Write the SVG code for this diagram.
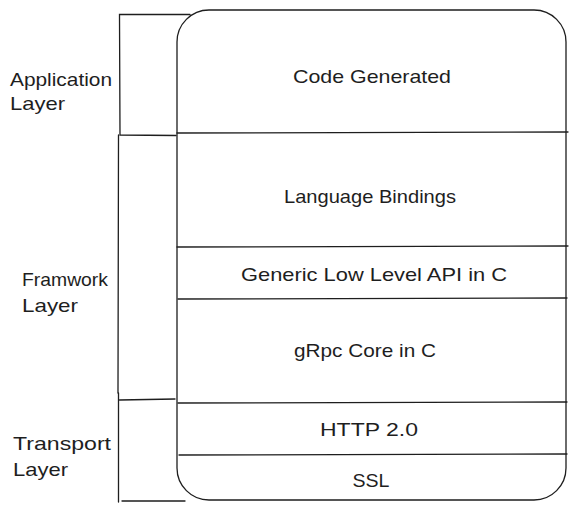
<svg xmlns="http://www.w3.org/2000/svg" width="579" height="512" viewBox="0 0 579 512">
<style>
.ln{fill:none;stroke:#1e1e1e;stroke-width:1.3;stroke-linecap:round}
.t{font-family:"Liberation Sans",Arial,sans-serif;font-size:19px;fill:#1e1e1e;dominant-baseline:central}
.c{text-anchor:middle}
</style>
<rect width="579" height="512" fill="#ffffff"/>
<g id="stack">
<rect class="ln" x="177" y="10" width="389" height="490" rx="32" ry="32"/>
</g>
<g id="code-generated">
<text class="t c" x="372" y="76" textLength="158" lengthAdjust="spacingAndGlyphs">Code Generated</text>
</g>
<g id="language-bindings">
<line class="ln" x1="177" y1="133" x2="568" y2="132"/>
<text class="t c" x="370" y="196" textLength="172" lengthAdjust="spacingAndGlyphs">Language Bindings</text>
</g>
<g id="generic-low-level-api">
<line class="ln" x1="177" y1="247" x2="568" y2="246"/>
<text class="t c" x="374" y="274" textLength="266" lengthAdjust="spacingAndGlyphs">Generic Low Level API in C</text>
</g>
<g id="grpc-core">
<line class="ln" x1="178" y1="299" x2="567" y2="298"/>
<text class="t c" x="365" y="350" textLength="142" lengthAdjust="spacingAndGlyphs">gRpc Core in C</text>
</g>
<g id="http2">
<line class="ln" x1="178" y1="403" x2="567" y2="402"/>
<text class="t c" x="369" y="429" textLength="98" lengthAdjust="spacingAndGlyphs">HTTP 2.0</text>
</g>
<g id="ssl">
<line class="ln" x1="179" y1="455" x2="567" y2="454"/>
<text class="t c" x="371" y="480" textLength="37" lengthAdjust="spacingAndGlyphs">SSL</text>
</g>
<g id="connectors">
<path class="ln" d="M190 14.5 L119.5 14.5 L120 135 L176 135.5"/>
<path class="ln" d="M118.5 135 L118 393"/>
<path class="ln" d="M119.5 400 L175 399"/>
<path class="ln" d="M118.5 393 L118.5 502"/>
<path class="ln" d="M122 501 L185 501"/>
</g>
<g id="application-layer">
<text class="t" x="10" y="79.5" textLength="102" lengthAdjust="spacingAndGlyphs">Application</text>
<text class="t" x="10" y="103" textLength="55" lengthAdjust="spacingAndGlyphs">Layer</text>
</g>
<g id="framework-layer">
<text class="t" x="22" y="279" textLength="86" lengthAdjust="spacingAndGlyphs">Framwork</text>
<text class="t" x="22" y="305" textLength="56" lengthAdjust="spacingAndGlyphs">Layer</text>
</g>
<g id="transport-layer">
<text class="t" x="13" y="443" textLength="98" lengthAdjust="spacingAndGlyphs">Transport</text>
<text class="t" x="13" y="469" textLength="55" lengthAdjust="spacingAndGlyphs">Layer</text>
</g>
</svg>
